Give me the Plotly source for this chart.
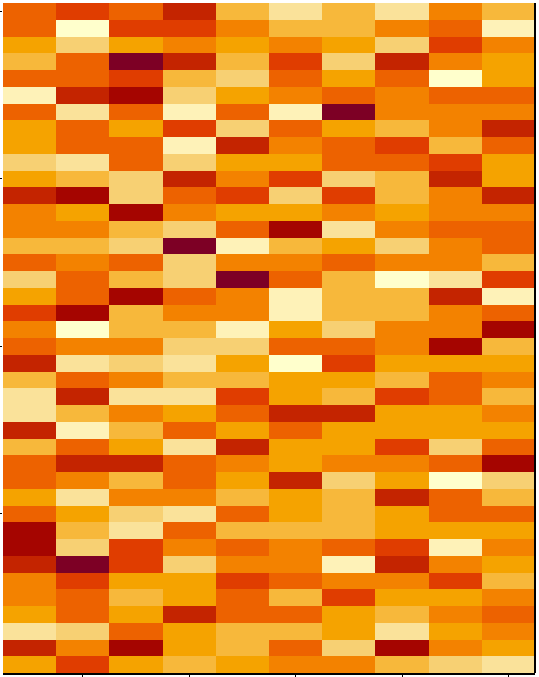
import plotly.graph_objects as go

# Colour levels (1 = lightest ... 12 = darkest)
palette = ["#ffffcc", "#fef2b8", "#fae29a", "#f7d073", "#f7b83b", "#f5a300",
           "#f38200", "#ed6200", "#e03d00", "#c42400", "#a50500", "#7d0025"]
codes = "LKJIHGFEDCBA"  # letter -> level
lvl = {c: i + 1 for i, c in enumerate(codes)}

x_vals = list(range(1, 11))
y_vals = list(range(1, 41))
x_ticks = [2, 4, 6, 8, 10]
y_ticks = [10, 20, 30, 40]

# rows listed top to bottom (y = 40 ... 1), columns x = 1..10
rows_top_down = [
    "EDECHJHJFH",
    "ELDDFHHFEK",
    "GIGFGFGIDF",
    "HEACHDICFG",
    "EEDHIEGELG",
    "KCBIGFEFEE",
    "EJEKEKAFFF",
    "GEGDIEGHFC",
    "GEEKCFEDHE",
    "IJEIGGEEDG",
    "GHICFDIHCG",
    "CBIEDIDHFC",
    "FGBFGGFGFF",
    "FFHIEBJFEE",
    "HHIAKHGIFE",
    "EFEIFFEFFH",
    "IEHIAEHLJD",
    "GEBEFKHHCK",
    "DBHFFKHHFE",
    "FLHHKGIFFB",
    "EFFIIEEFBH",
    "CJIJGLDGGG",
    "HEFHHGGHEF",
    "JCJJDGHDEH",
    "JHFGECCGGF",
    "CKHEGEGGGG",
    "HEGJCGGDIE",
    "ECCEFGFFEB",
    "EFHEGCIGLI",
    "GJFFHGHCEH",
    "EGIJEGHGEE",
    "BHJEHHHGGG",
    "BIDFEFEDKF",
    "CADIFFKCFG",
    "FDGGDEFFDH",
    "FEHGEHDGGF",
    "GEGCEEGHFE",
    "JIEGHHGJGF",
    "CFBGHEIBFG",
    "GDGHGFFHIJ",
]

z = [[lvl[c] for c in row] for row in reversed(rows_top_down)]

n = len(palette)
colorscale = []
for i, col in enumerate(palette):
    colorscale.append([i / n, col])
    colorscale.append([(i + 1) / n, col])

fig = go.Figure(go.Heatmap(
    x=x_vals, y=y_vals, z=z,
    colorscale=colorscale, zmin=0.5, zmax=n + 0.5,
    showscale=False, hoverinfo="skip",
))

fig.update_layout(
    width=539, height=677,
    margin=dict(l=3, r=4, t=3, b=4, pad=0, autoexpand=False),
    paper_bgcolor="white", plot_bgcolor="white",
    xaxis=dict(range=[0.5, 10.5], tickvals=x_ticks, showticklabels=False,
               ticks="outside", ticklen=5, tickwidth=1, tickcolor="black",
               showline=True, linecolor="black", linewidth=2,
               showgrid=False, zeroline=False, automargin=False),
    yaxis=dict(range=[0.5, 40.5], tickvals=y_ticks, showticklabels=False,
               ticks="outside", ticklen=3, tickwidth=1, tickcolor="black",
               showline=False, showgrid=False, zeroline=False, automargin=False),
    shapes=[dict(type="line", xref="paper", yref="paper", x0=1, x1=1, y0=0, y1=1,
                 line=dict(color="black", width=2))],
)

fig.write_html("out.html", config={"displayModeBar": False},
               post_script="document.body.style.margin='0';")
